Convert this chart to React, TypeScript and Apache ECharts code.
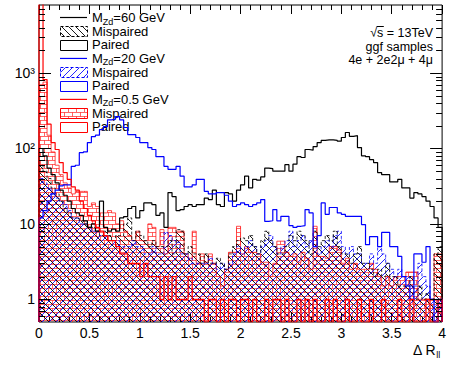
import { useEffect, useRef } from 'react';
import * as echarts from 'echarts';

const W = 449;
const H = 368;
const FONT = '"Liberation Sans", Arial, Helvetica, sans-serif';

// Histogram binning and axis ranges
const X_MIN = 0;
const X_MAX = 4;
const Y_MIN = 0.5;
const Y_MAX = 8000;

const xTickLabels = ['0', '0.5', '1', '1.5', '2', '2.5', '3', '3.5', '4'];
const yMajorTicks = [1, 10, 100, 1000];
const yMajorLabels = ['1', '10', '10²', '10³'];
const yMinorTicks = [
  0.6, 0.7, 0.8, 0.9,
  2, 3, 4, 5, 6, 7, 8, 9,
  20, 30, 40, 50, 60, 70, 80, 90,
  200, 300, 400, 500, 600, 700, 800, 900,
  2000, 3000, 4000, 5000, 6000, 7000,
];

// Entries per bin (100 bins, 0 < ΔR_ll < 4)
const paired60 = [
  100, 80, 55, 45, 35, 28, 24, 20, 16, 14,
  13, 11, 9, 10, 8, 20, 9, 8, 8.5, 8,
  12, 12.5, 16, 17, 12, 15, 19, 19, 18, 13,
  14, 9, 26, 23, 15, 15.5, 17, 18, 17, 18,
  18, 22, 21, 28, 18, 17, 26, 25, 20, 28,
  33, 43, 30, 39, 38, 42, 55, 54, 50, 50,
  50, 61, 50, 62, 78, 76, 97, 95, 106, 120,
  128, 130, 130, 128, 125, 140, 163, 145, 148, 103,
  80, 78, 71, 65, 48, 45, 45, 36, 36, 39,
  30, 30, 22, 26, 25, 23, 20, 17, 12, 9,
];
const mispaired60 = [
  60, 50, 40, 30, 25, 20, 16, 14, 12, 12,
  11, 10, 9, 9, 8, 7, 8, 7, 6, 7,
  7, 10, 12, 6, 8, 7, 6, 5, 6, 5,
  5, 5, 6, 4, 8.4, 8, 4, 5, 4, 4,
  3, 4, 3, 3, 3.5, 3, 2.5, 4, 5, 6,
  6.5, 6, 7, 5, 4, 6, 8, 6, 5, 4,
  4, 5, 7, 6, 8, 7, 6, 4, 8, 5,
  6, 7, 6, 8, 5, 4, 4, 3, 4, 5,
  3, 3, 2.5, 2, 2.5, 2, 3, 2, 2, 1.5,
  1.5, 1.5, 2, 1, 1.5, 1, 1.2, 1, 4, 5,
];
const paired20 = [
  12, 15, 20, 25, 28, 32, 33, 33, 58, 60,
  88, 90, 120, 144, 150, 178, 195, 240, 245, 265,
  240, 190, 153, 153, 140, 120, 120, 103, 97, 78,
  78, 58, 53, 53, 58, 43, 31, 31, 33, 39,
  39, 27, 25, 25, 26, 26, 24, 20, 17, 18,
  19, 18, 17, 18, 19, 21, 10.8, 11, 15.5, 11,
  12.6, 12.6, 9.5, 9, 9.3, 9.5, 15.5, 14, 5, 7,
  19, 13.4, 16.5, 16.5, 14, 13.4, 12.6, 12.6, 12.6, 12.6,
  9.8, 5.3, 6.8, 6.8, 5, 7.7, 7.7, 5, 5, 3.7,
  2, 1.5, 1, 4, 4, 3.1, 5, 1, 0, 1,
];
const mispaired20 = [
  40, 35, 30, 25, 22, 20, 18, 15, 12, 12,
  10, 10, 9, 8, 8, 7, 7, 6, 6, 6,
  5, 5, 5, 6, 5, 5, 4, 4, 5, 4,
  4, 7.7, 7, 6, 5.7, 4, 4, 3.5, 3, 3,
  3, 3, 3.5, 3, 2.5, 3, 2.5, 3, 4, 5,
  4, 5, 6, 5, 4, 5, 6, 7, 5, 4,
  5, 6, 8, 5, 6, 7, 5, 6, 5, 4,
  5, 6, 5, 7, 8, 5, 4, 5, 4, 4,
  3, 3, 4, 3, 5, 4, 3, 2.5, 2, 2.5,
  2, 2, 1.5, 1.5, 3, 2, 1.5, 1, 1, 1,
];
const paired05 = [
  20000, 820, 210, 120, 97, 65, 48, 39, 31, 28,
  20, 16, 13, 11, 9, 8, 7, 6, 6, 5,
  4, 4, 3, 3, 3, 2, 3, 2, 2, 2,
  1, 2, 1, 2, 1, 1, 1, 2, 1, 1,
  1, 0, 1, 1, 0, 1, 0, 1, 1, 0,
  1, 1, 0, 1, 0, 0, 1, 0, 1, 1,
  0, 1, 0, 0, 1, 0, 1, 0, 1, 0,
  0, 1, 0, 1, 0, 0, 1, 0, 0, 1,
  0, 0, 1, 0, 0, 1, 0, 0, 0, 1,
  0, 0, 1, 0, 0, 0, 1, 0, 0, 1,
];
const mispaired05 = [
  700, 760, 150, 90, 60, 45, 35, 30, 25, 27,
  27, 27, 17, 19, 17, 14, 14, 15, 14, 10,
  11, 8, 7, 6, 8, 6, 6, 10, 9, 5,
  8.4, 4, 9, 9, 8, 8, 4, 3.5, 8, 3,
  4, 3.1, 4, 3, 2, 1.5, 2.5, 4.2, 4.2, 9.3,
  4, 5, 4.2, 4.2, 4, 3.1, 3.1, 2, 3, 5.9,
  5.9, 4.2, 3.7, 4, 3.1, 4.2, 3.5, 2.5, 9.3, 3.7,
  3.7, 3.5, 5, 5, 4.5, 3, 3.5, 2.5, 3, 2.5,
  2.5, 2.5, 3, 2.5, 2, 1.5, 2, 1.5, 2, 2,
  2, 2.3, 2.3, 2.3, 1, 1, 1, 1, 4, 4,
];

const massLabels = ['60', '20', '0.5'];
const sampleColors = ['#000000', '#0000ff', '#ff0000'];
const infoLines = ['√s = 13TeV', 'ggf samples', '4e + 2e2μ + 4μ'];

type HatchKind = 'back' | 'fwd' | 'brick';

function makeHatch(kind: HatchKind, color: string) {
  const s = kind === 'brick' ? 8 : 7;
  const c = document.createElement('canvas');
  c.width = s;
  c.height = s;
  const g = c.getContext('2d')!;
  g.strokeStyle = color;
  g.lineWidth = 1;
  g.beginPath();
  if (kind === 'back') {
    g.moveTo(-1, -1); g.lineTo(s + 1, s + 1);
    g.moveTo(-1, s - 1); g.lineTo(1, s + 1);
    g.moveTo(s - 1, -1); g.lineTo(s + 1, 1);
  } else if (kind === 'fwd') {
    g.moveTo(-1, s + 1); g.lineTo(s + 1, -1);
    g.moveTo(-1, 1); g.lineTo(1, -1);
    g.moveTo(s - 1, s + 1); g.lineTo(s + 1, s - 1);
  } else {
    g.moveTo(0, 0.5); g.lineTo(s, 0.5);
    g.moveTo(0, 4.5); g.lineTo(s, 4.5);
    g.moveTo(0.5, 0.5); g.lineTo(0.5, 4.5);
    g.moveTo(4.5, 4.5); g.lineTo(4.5, 8);
  }
  g.stroke();
  return { image: c, repeat: 'repeat', imageWidth: s, imageHeight: s };
}

// Step outline of a histogram, closed down to the axis floor at both ends
function histPoints(values: number[]) {
  const w = (X_MAX - X_MIN) / values.length;
  const pts: number[][] = [[X_MIN, Y_MIN]];
  values.forEach((v, i) => pts.push([X_MIN + i * w, Math.max(v, Y_MIN)]));
  pts.push([X_MAX, Math.max(values[values.length - 1], Y_MIN)]);
  pts.push([X_MAX, Y_MIN]);
  return pts;
}

export default function App() {
  const ref = useRef<HTMLDivElement>(null);

  useEffect(() => {
    const chart = echarts.init(ref.current!, null, { renderer: 'svg' });

    const ctx = document.createElement('canvas').getContext('2d')!;
    const measure = (t: string, size: number) => {
      ctx.font = `${size}px ${FONT}`;
      return ctx.measureText(t).width;
    };

    const hatches = [
      makeHatch('back', 'rgba(0,0,0,0.9)'),
      makeHatch('fwd', 'rgba(0,0,255,0.85)'),
      makeHatch('brick', 'rgba(255,0,0,0.6)'),
    ];
    const misDash = [[3, 2], [3, 2], 'solid'];
    const pairedSets = [paired60, paired20, paired05];
    const misSets = [mispaired60, mispaired20, mispaired05];
    const misOrder = [2, 1, 0];

    const series: any[] = [];
    misOrder.forEach((k) => {
      series.push({
        type: 'line',
        name: `mis${k}`,
        data: histPoints(misSets[k]),
        step: 'end',
        symbol: 'none',
        silent: true,
        clip: true,
        z: 2,
        lineStyle: { color: sampleColors[k], width: 1, type: misDash[k] as any, opacity: k === 2 ? 0.7 : 0.8 },
        areaStyle: { color: hatches[k] as any, opacity: 1, origin: 'start' },
      });
    });
    pairedSets.forEach((vals, k) => {
      series.push({
        type: 'line',
        name: `paired${k}`,
        data: histPoints(vals),
        step: 'end',
        symbol: 'none',
        silent: true,
        clip: true,
        z: 3,
        lineStyle: { color: sampleColors[k], width: 1.2 },
      });
    });

    // Log-axis ticks (major and 2..9 minors) on the left and right frame edges
    const tickData = [
      ...yMajorTicks.map((v) => [X_MIN, v, 1]),
      ...yMinorTicks.map((v) => [X_MIN, v, 0]),
    ];
    series.push({
      type: 'custom',
      coordinateSystem: 'cartesian2d',
      data: tickData,
      encode: { x: 0, y: 1 },
      silent: true,
      clip: false,
      z: 6,
      renderItem: (params: any, api: any) => {
        const cs = params.coordSys;
        const y = Math.round(api.coord([X_MIN, api.value(1)])[1]) + 0.5;
        const len = api.value(2) ? 12 : 6;
        const st = { stroke: '#000', lineWidth: 1 };
        return {
          type: 'group',
          children: [
            { type: 'line', shape: { x1: cs.x, y1: y, x2: cs.x + len, y2: y }, style: st },
            { type: 'line', shape: { x1: cs.x + cs.width - len, y1: y, x2: cs.x + cs.width, y2: y }, style: st },
          ],
        };
      },
    });

    // Rich-text styles: normal run plus a lowered subscript run
    const subRich = (size: number, subSize: number, drop: number, lh: number) => ({
      n: { fontSize: size, fontFamily: FONT, lineHeight: lh, fill: '#000' },
      s: { fontSize: subSize, fontFamily: FONT, lineHeight: lh, padding: [drop * 2, 0, 0, 0], fill: '#000' },
    });

    // Legend, drawn as graphics
    const elements: any[] = [];
    const lx0 = 60;
    const lw = 27;
    const tx = 92;
    const fs = 13;
    const rowY = (r: number) => 17.5 + r * 13.65;
    massLabels.forEach((m, k) => {
      const col = sampleColors[k];
      const yh = rowY(k * 3);
      elements.push({ type: 'line', shape: { x1: lx0, y1: yh, x2: lx0 + lw, y2: yh }, style: { stroke: col, lineWidth: 1.2 } });
      elements.push({
        type: 'text',
        x: tx,
        y: yh,
        style: {
          text: `{n|M}{s|Zd}{n|=${m} GeV}`,
          rich: subRich(fs, 9, 4, 15),
          font: `${fs}px ${FONT}`,
          fill: '#000',
          align: 'left',
          verticalAlign: 'middle',
        },
      });

      const ym = rowY(k * 3 + 1);
      elements.push({
        type: 'rect',
        shape: { x: lx0 + 0.5, y: Math.round(ym - 5) + 0.5, width: lw, height: 10 },
        style: { fill: hatches[k] as any, stroke: col, lineWidth: 1, lineDash: k < 2 ? [3, 2] : null },
      });
      elements.push({ type: 'text', x: tx, y: ym, style: { text: 'Mispaired', font: `${fs}px ${FONT}`, fill: '#000', align: 'left', verticalAlign: 'middle' } });

      const yp = rowY(k * 3 + 2);
      elements.push({
        type: 'rect',
        shape: { x: lx0 + 0.5, y: Math.round(yp - 5) + 0.5, width: lw, height: 10 },
        style: { fill: 'none', stroke: col, lineWidth: 1 },
      });
      elements.push({ type: 'text', x: tx, y: yp, style: { text: 'Paired', font: `${fs}px ${FONT}`, fill: '#000', align: 'left', verticalAlign: 'middle' } });
    });

    // Sample description, top right
    const infoFs = 12.5;
    const infoRight = 433;
    infoLines.forEach((t, i) => {
      elements.push({ type: 'text', x: infoRight, y: 33 + i * 13.5, style: { text: t, font: `${infoFs}px ${FONT}`, fill: '#000', align: 'right', verticalAlign: 'middle' } });
    });
    {
      const t = infoLines[0];
      const left = infoRight - measure(t, infoFs);
      const wr = measure('√', infoFs);
      const ws = measure('s', infoFs);
      elements.push({ type: 'line', shape: { x1: left + wr - 0.5, y1: 26.5, x2: left + wr + ws + 0.5, y2: 26.5 }, style: { stroke: '#000', lineWidth: 1 } });
    }

    // Axis title ΔR_ll
    elements.push({
      type: 'text',
      x: 413,
      y: 350,
      style: {
        text: '{n|Δ R}{s|ll}',
        rich: subRich(14, 9, 4.5, 16),
        font: `14px ${FONT}`,
        fill: '#000',
        align: 'left',
        verticalAlign: 'middle',
      },
    });

    const xAxisBase = {
      type: 'value',
      min: X_MIN,
      max: X_MAX,
      interval: 0.5,
      axisLine: { show: false },
      splitLine: { show: false },
      axisTick: { show: true, inside: true, length: 9, lineStyle: { color: '#000', width: 1 } },
      minorTick: { show: true, splitNumber: 5, length: 5, lineStyle: { color: '#000', width: 1 } },
      minorSplitLine: { show: false },
    };

    chart.setOption({
      animation: false,
      backgroundColor: '#ffffff',
      grid: {
        left: 39,
        right: 6,
        top: 5,
        bottom: 46,
        show: true,
        borderColor: '#000',
        borderWidth: 1,
        backgroundColor: 'transparent',
      },
      xAxis: [
        {
          ...xAxisBase,
          position: 'bottom',
          axisLabel: {
            show: true,
            margin: 4,
            fontSize: 14,
            color: '#000',
            fontFamily: FONT,
            showMinLabel: true,
            showMaxLabel: true,
            formatter: (v: number) => xTickLabels[Math.round((v - X_MIN) / 0.5)] ?? '',
          },
        },
        {
          ...xAxisBase,
          position: 'top',
          axisLabel: { show: false },
        },
      ],
      yAxis: {
        type: 'log',
        logBase: 10,
        min: Y_MIN,
        max: Y_MAX,
        axisLine: { show: false },
        axisTick: { show: false },
        splitLine: { show: false },
        axisLabel: {
          margin: 4,
          fontSize: 14,
          color: '#000',
          fontFamily: FONT,
          formatter: (v: number) => {
            const idx = yMajorTicks.findIndex((t) => Math.abs(t - v) / t < 1e-6);
            return idx >= 0 ? yMajorLabels[idx] : '';
          },
        },
      },
      series,
      graphic: { elements },
    });

    return () => chart.dispose();
  }, []);

  return (
    <div
      ref={ref}
      style={{ position: 'fixed', left: 0, top: 0, width: W, height: H, background: '#fff' }}
    />
  );
}
